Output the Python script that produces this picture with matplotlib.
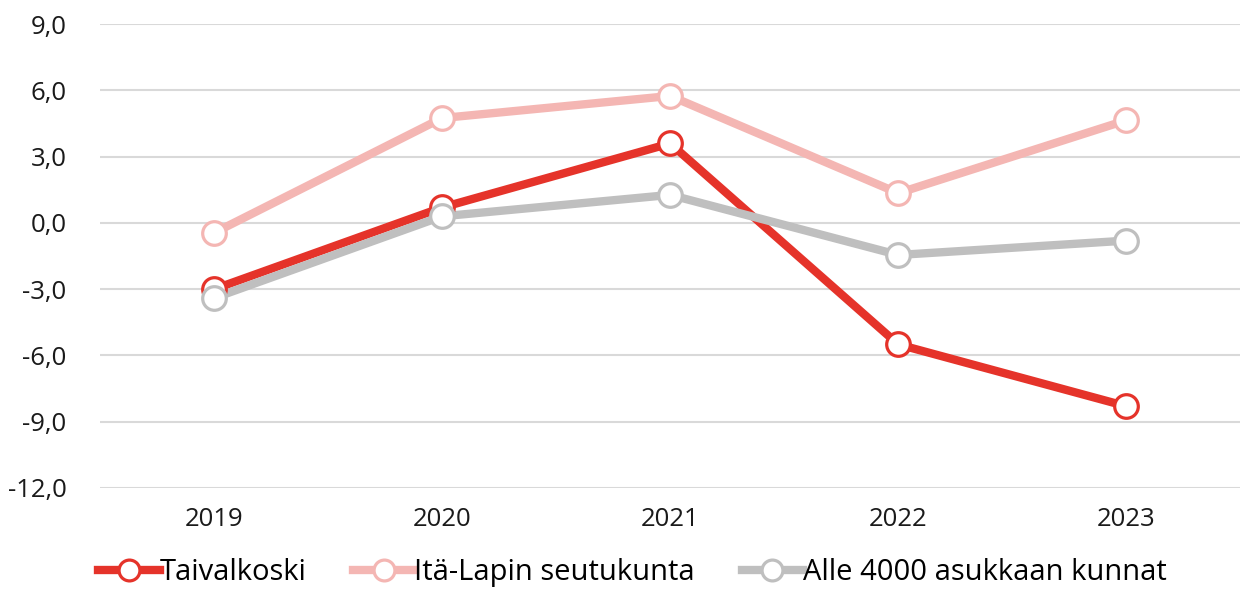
import matplotlib.pyplot as plt
from matplotlib.lines import Line2D

years = ["2019", "2020", "2021", "2022", "2023"]
taivalkoski = [-3.0, 0.7, 3.6, -5.5, -8.3]
ita_lappi = [-0.45, 4.75, 5.75, 1.35, 4.65]
alle_4000 = [-3.4, 0.3, 1.27, -1.45, -0.8]

series = [
    ("Taivalkoski", taivalkoski, "#E5332A"),
    ("Itä-Lapin seutukunta", ita_lappi, "#F4B6B3"),
    ("Alle 4000 asukkaan kunnat", alle_4000, "#BFBFBF"),
]

plt.rcParams["font.family"] = ["Open Sans", "DejaVu Sans"]

fig = plt.figure(figsize=(12.45, 5.9), dpi=100)
ax = fig.add_axes([0.0803, 0.173, 0.916, 0.786])

x = range(len(years))
# lines first, markers on top (as in the original)
for name, vals, color in series:
    ax.plot(x, vals, color=color, linewidth=6, solid_capstyle="round", zorder=2)
for name, vals, color in series:
    ax.plot(x, vals, linestyle="none", marker="o", markersize=17,
            markerfacecolor="white", markeredgecolor=color,
            markeredgewidth=2.3, zorder=3)

ax.set_xlim(-0.5, 4.5)
ax.set_ylim(-12, 9)
yt = [-12, -9, -6, -3, 0, 3, 6, 9]
ax.set_yticks(yt)
ax.set_yticklabels([f"{v:.1f}".replace(".", ",") for v in yt])
ax.set_xticks(list(x))
ax.set_xticklabels(years)
ax.grid(axis="y", color="#D9D9D9", linewidth=1.5)
ax.set_axisbelow(True)
for s in ax.spines.values():
    s.set_visible(False)
ax.tick_params(length=0, labelsize=18.5, colors="#1a1a1a")
ax.tick_params(axis="y", pad=24)
ax.tick_params(axis="x", pad=14)

handles = [Line2D([], [], color=c, linewidth=6, marker="o", markersize=15,
                  markerfacecolor="white", markeredgecolor=c, markeredgewidth=2.3)
           for _, _, c in series]
labels = [n for n, _, _ in series]
fig.legend(handles, labels, loc="center", bbox_to_anchor=(0.508, 0.03),
           ncol=3, frameon=False, fontsize=21, handlelength=2.1,
           handletextpad=0.0, columnspacing=1.6)

fig.savefig("out.png", dpi=100)
